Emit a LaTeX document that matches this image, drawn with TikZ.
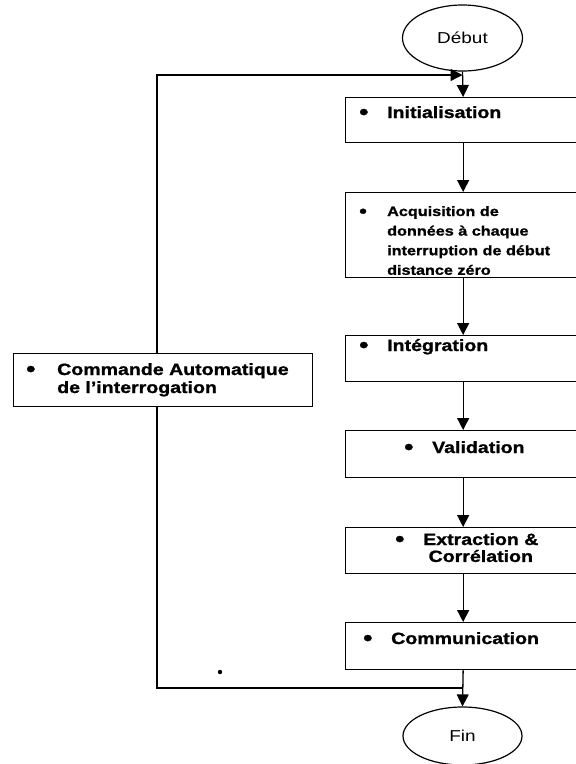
\documentclass[tikz,border=0pt]{standalone}
\usepackage{fontspec}
\setmainfont{Liberation Sans}[FakeStretch=1.2, BoldFeatures={FakeBold=1.2}]
\usetikzlibrary{arrows.meta,calc,shapes.geometric}
% bullet followed by a fixed gap before the item text
\newcommand{\bul}[1][28pt]{\makebox[#1][l]{\raisebox{-1.3pt}{\scalebox{1.35}{•}}}}
\begin{document}
\begin{tikzpicture}[x=1pt,y=-1pt,
  stepbox/.style={draw, line width=1.3pt, rectangle, minimum width=235pt,
    anchor=north west, inner sep=0pt},
  term/.style={draw, line width=1.2pt, ellipse, inner sep=0pt,
    font=\fontsize{15.8}{18}\selectfont},
  txt/.style={anchor=base west, inner sep=0pt,
    font=\bfseries\fontsize{16.3}{18}\selectfont},
  link/.style={line width=1.3pt},
  flow/.style={link, -{Triangle[length=12pt,width=12pt]}}]
\useasboundingbox (0,0) rectangle (576,764);
\clip (0,0) rectangle (576,764);

% terminals
\node[term, minimum width=120pt, minimum height=66pt] (debut) at (462.5,38) {Début};
\node[term, minimum width=119pt, minimum height=58pt] (fin) at (462.5,736) {Fin};

% processing steps
\node[stepbox, minimum height=45pt] (init)  at (345,97)  {};
\node[stepbox, minimum height=85pt] (acq)   at (345,192) {};
\node[stepbox, minimum height=46pt] (integ) at (345,335) {};
\node[stepbox, minimum height=47pt] (valid) at (345,430) {};
\node[stepbox, minimum height=46pt] (extr)  at (345,527) {};
\node[stepbox, minimum height=47pt] (comm)  at (345,622) {};
\node[stepbox, minimum width=299pt, minimum height=53pt] (cmd) at (13,353) {};

% step texts
\node[txt] (tinit) at (359,118) {\bul Initialisation};
\node[txt, font=\bfseries\fontsize{13.5}{19.6}\selectfont] (tacq) at (359,216)
  {\begin{tabular}[t]{@{}l@{}l@{}}
   \bul & Acquisition de\\
        & données à chaque\\
        & interruption de début\\
        & distance zéro
   \end{tabular}};
\node[txt] (tinteg) at (359,351) {\bul Intégration};
\node[txt] (tvalid) at (404,453) {\bul Validation};
\node[txt, font=\bfseries\fontsize{16.3}{16.5}\selectfont] (textr) at (395,545)
  {\begin{tabular}[t]{@{}l@{}c@{}}
   \bul & Extraction \&\\
        & Corrélation
   \end{tabular}};
\node[txt] (tcomm) at (363,644) {\bul Communication};
\node[txt] (tcmd) at (26,375)
  {\begin{tabular}[t]{@{}l@{}l@{}}
   \bul[31pt] & Commande Automatique\\
              & de l'interrogation
   \end{tabular}};

% feedback lane and junctions
\coordinate (lane) at (157,0);
\coordinate (jt) at (462.5,75);
\coordinate (jb) at (462.5,688);

% main flow
\draw[flow] (debut.south) -- (init.north);
\draw[flow] (init.south) -- (acq.north);
\draw[flow] (acq.south) -- (integ.north);
\draw[flow] (integ.south) -- (valid.north);
\draw[flow] (valid.south) -- (extr.north);
\draw[flow] (extr.south) -- (comm.north);
\draw[flow] (comm.south) -- (fin.north);

% loop back through the automatic command
\draw[link] (jb) -| (cmd.south -| lane);
\draw[flow] (cmd.north -| lane) |- (jt);

\fill (220,672) circle (2.2pt);
\end{tikzpicture}
\end{document}
